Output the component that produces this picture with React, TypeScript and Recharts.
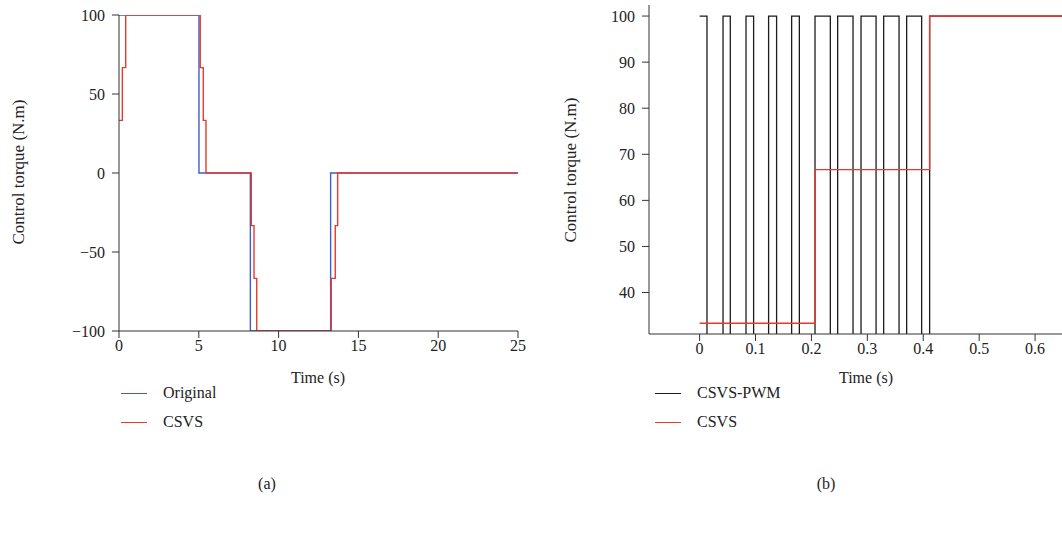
import React from 'react'
import { LineChart, Line, XAxis, YAxis } from 'recharts'

// (a) original vs CSVS torque, [time s, torque N.m], step-after
const originalA = [
  { t: 0, v: 100 },
  { t: 5.01, v: 0 },
  { t: 8.23, v: -100 },
  { t: 13.26, v: 0 },
  { t: 25, v: 0 },
]

const csvsA = [
  { t: 0, v: 33.33 },
  { t: 0.21, v: 66.67 },
  { t: 0.42, v: 100 },
  { t: 5.09, v: 66.67 },
  { t: 5.28, v: 33.33 },
  { t: 5.45, v: 0 },
  { t: 8.29, v: -33.33 },
  { t: 8.46, v: -66.67 },
  { t: 8.63, v: -100 },
  { t: 13.3, v: -66.67 },
  { t: 13.55, v: -33.33 },
  { t: 13.7, v: 0 },
  { t: 25, v: 0 },
]

// (b) zoom on the first 0.7 s
const pwmB = [
  { t: 0, v: 100 },
  { t: 0.0132, v: 0 },
  { t: 0.0419, v: 100 },
  { t: 0.0549, v: 0 },
  { t: 0.083, v: 100 },
  { t: 0.0966, v: 0 },
  { t: 0.1234, v: 100 },
  { t: 0.1377, v: 0 },
  { t: 0.1646, v: 100 },
  { t: 0.1784, v: 0 },
  { t: 0.2064, v: 100 },
  { t: 0.2338, v: 0 },
  { t: 0.2469, v: 100 },
  { t: 0.2744, v: 0 },
  { t: 0.2887, v: 100 },
  { t: 0.3156, v: 0 },
  { t: 0.3292, v: 100 },
  { t: 0.3567, v: 0 },
  { t: 0.3703, v: 100 },
  { t: 0.3971, v: 0 },
  { t: 0.4114, v: 100 },
  { t: 0.7, v: 100 },
]

const csvsB = [
  { t: 0, v: 33.33 },
  { t: 0.2064, v: 66.67 },
  { t: 0.4114, v: 100 },
  { t: 0.7, v: 100 },
]

const ticksXA = [0, 5, 10, 15, 20, 25]
const ticksYA = [-100, -50, 0, 50, 100]
const ticksXB = [0, 0.1, 0.2, 0.3, 0.4, 0.5, 0.6]
const ticksYB = [40, 50, 60, 70, 80, 90, 100]

const BLUE = '#3d5fc4'
const RED = '#e63a2e'
const BLACK = '#1c1c1c'
const AXIS = '#333'
const FONT = "'Liberation Serif', 'Times New Roman', serif"

const tickStyle = { fontSize: 16, fill: '#222', fontFamily: FONT }

const minus = (v: number) => (v < 0 ? '\u2212' + Math.abs(v) : String(v))

function Text({ x, y, children, rotate, size = 16 }: { x: number; y: number; children: React.ReactNode; rotate?: boolean; size?: number }) {
  return (
    <div
      style={{
        position: 'absolute',
        left: x,
        top: y,
        transform: `translate(-50%, -50%)${rotate ? ' rotate(-90deg)' : ''}`,
        whiteSpace: 'nowrap',
        fontSize: size,
        color: '#222',
        lineHeight: 1,
      }}
    >
      {children}
    </div>
  )
}

function LegendRow({ x, y, color, label }: { x: number; y: number; color: string; label: string }) {
  return (
    <div style={{ position: 'absolute', left: x, top: y - 9, height: 18, display: 'flex', alignItems: 'center', fontSize: 16, color: '#222' }}>
      <div style={{ width: 26, height: 0, borderTop: `1.5px solid ${color}`, marginRight: 16 }} />
      <span>{label}</span>
    </div>
  )
}

export default function App() {
  return (
    <div
      style={{
        position: 'fixed',
        left: 0,
        top: 0,
        width: 1062,
        height: 535,
        overflow: 'hidden',
        background: '#fff',
        fontFamily: FONT,
      }}
    >
      <div style={{ position: 'absolute', left: 0, top: 0 }}>
        <LineChart width={540} height={361} margin={{ top: 15, right: 22, bottom: 0, left: 0 }}>
          <XAxis
            type="number"
            dataKey="t"
            domain={[0, 25]}
            ticks={ticksXA}
            allowDataOverflow
            height={30}
            tickSize={7}
            tickMargin={2}
            tick={tickStyle}
            stroke={AXIS}
          />
          <XAxis xAxisId="top" orientation="top" type="number" domain={[0, 25]} height={0} tick={false} tickLine={false} stroke={AXIS} />
          <YAxis
            type="number"
            domain={[-100, 100]}
            ticks={ticksYA}
            allowDataOverflow
            width={119}
            tickSize={7}
            tickMargin={7}
            tick={tickStyle}
            tickFormatter={minus}
            stroke={AXIS}
          />
          <YAxis yAxisId="right" orientation="right" domain={[-100, 100]} width={0} tick={false} tickLine={false} stroke={AXIS} />
          <Line data={originalA} dataKey="v" type="stepAfter" stroke={BLUE} strokeWidth={1.4} dot={false} isAnimationActive={false} />
          <Line data={csvsA} dataKey="v" type="stepAfter" stroke={RED} strokeWidth={1.4} dot={false} isAnimationActive={false} />
        </LineChart>
      </div>

      <div style={{ position: 'absolute', left: 589, top: 0 }}>
        <LineChart width={502} height={364} margin={{ top: 5, right: 0, bottom: 0, left: 0 }}>
          <XAxis
            type="number"
            dataKey="t"
            domain={[-0.0905, 0.7]}
            ticks={ticksXB}
            allowDataOverflow
            height={30}
            tickSize={7}
            tickMargin={2}
            tick={tickStyle}
            stroke={AXIS}
          />
          <XAxis xAxisId="top" orientation="top" type="number" domain={[-0.0905, 0.7]} height={0} tick={false} tickLine={false} stroke={AXIS} />
          <YAxis
            type="number"
            domain={[31, 102.4]}
            ticks={ticksYB}
            allowDataOverflow
            width={60}
            tickSize={7}
            tickMargin={7}
            tick={tickStyle}
            stroke={AXIS}
          />
          <Line data={pwmB} dataKey="v" type="stepAfter" stroke={BLACK} strokeWidth={1.3} dot={false} isAnimationActive={false} />
          <Line data={csvsB} dataKey="v" type="stepAfter" stroke={RED} strokeWidth={1.4} dot={false} isAnimationActive={false} />
        </LineChart>
      </div>

      <Text x={18} y={172} rotate size={17}>Control torque (N.m)</Text>
      <Text x={570} y={170} rotate size={17}>Control torque (N.m)</Text>
      <Text x={318} y={378}>Time (s)</Text>
      <Text x={866} y={378}>Time (s)</Text>

      <LegendRow x={121} y={393} color={BLUE} label="Original" />
      <LegendRow x={121} y={422} color={RED} label="CSVS" />
      <LegendRow x={655} y={393} color={BLACK} label="CSVS-PWM" />
      <LegendRow x={655} y={422} color={RED} label="CSVS" />

      <Text x={267} y={484}>(a)</Text>
      <Text x={826} y={484}>(b)</Text>
    </div>
  )
}
